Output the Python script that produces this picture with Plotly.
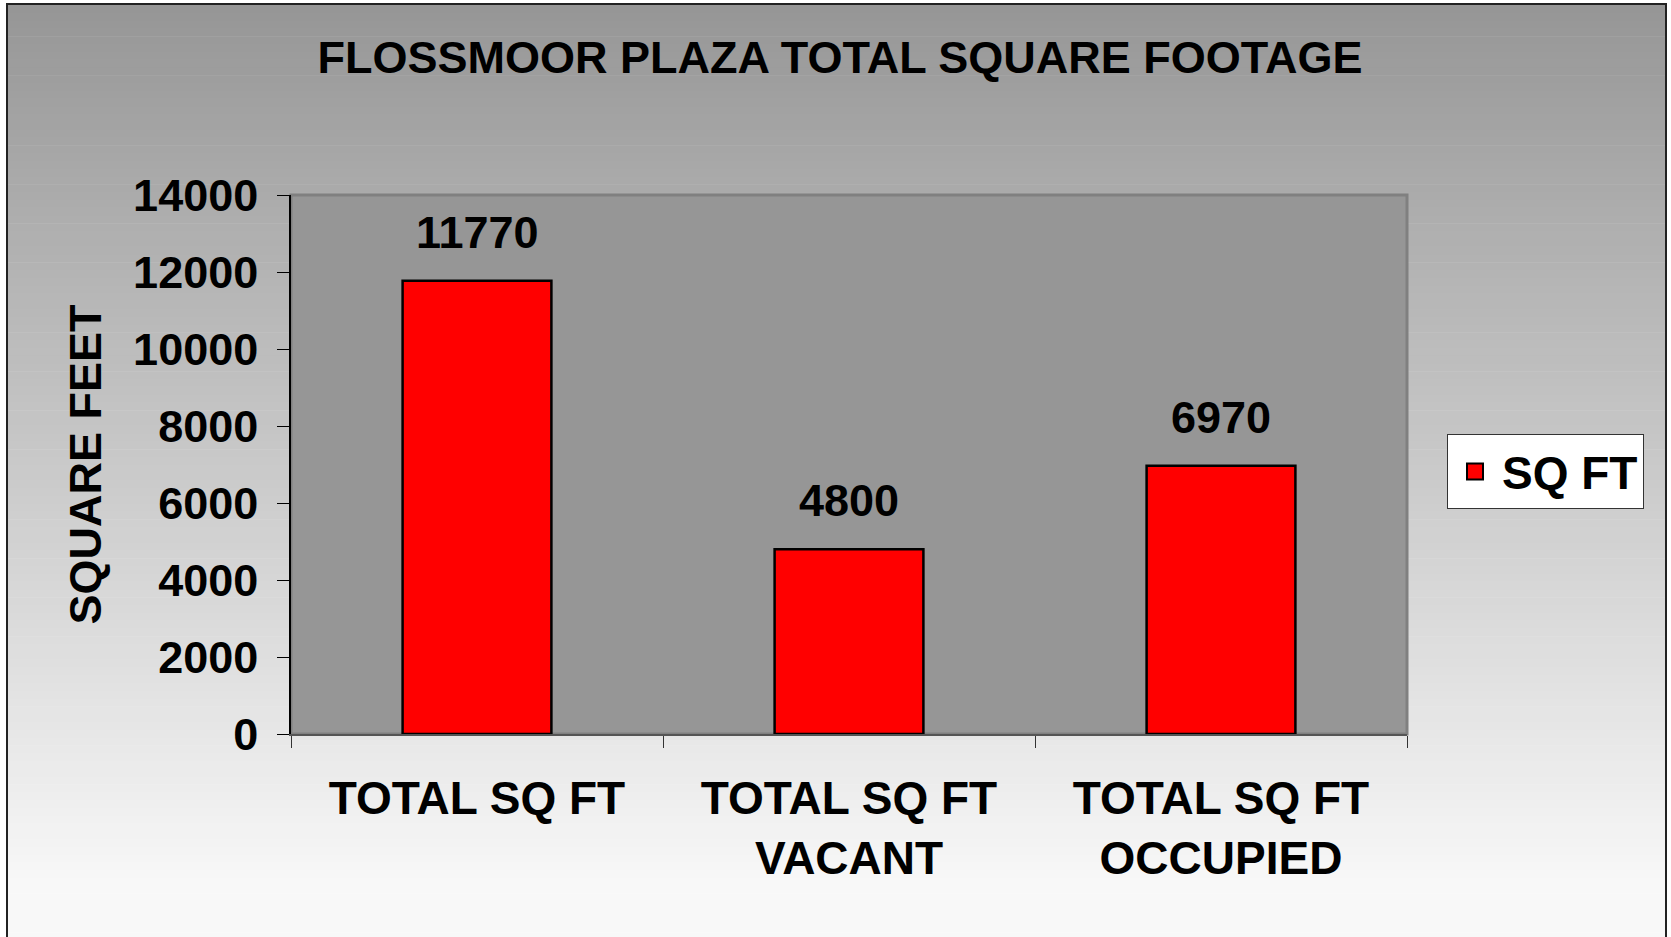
import plotly.graph_objects as go

categories = ["TOTAL SQ FT", "TOTAL SQ FT<br>VACANT", "TOTAL SQ FT<br>OCCUPIED"]
sq_ft = [11770, 4800, 6970]
series_name = "SQ FT"
y_ticks = [0, 2000, 4000, 6000, 8000, 10000, 12000, 14000]
y_tick_labels = [str(v) for v in y_ticks]

W, H = 1671, 937
L, R, T, B = 291, 1407, 195, 734
FONT = "Arial, 'Liberation Sans', sans-serif"


def px_x(p):
    return (p - L) / (R - L)


def px_y(p):
    return (B - p) / (B - T)


def font(size):
    return dict(family=FONT, size=size, color="#000000", weight="bold")


fig = go.Figure()
fig.add_trace(go.Bar(
    x=categories, y=sq_ft, name=series_name, legendgroup="sq",
    marker=dict(color="#ff0000", line=dict(color="#000000", width=2.5)),
    width=0.4, showlegend=False,
))
# legend entry for the same series (larger square symbol)
fig.add_trace(go.Scatter(
    x=[None], y=[None], name=series_name, legendgroup="sq", mode="markers",
    marker=dict(symbol="square", size=16, color="#ff0000", line=dict(color="#000000", width=2)),
    showlegend=True, hoverinfo="skip",
))

shapes = []
top, bot = 5, 940
n = 120
step = (bot - top) / n
for i in range(n):
    y0 = top + i * step
    y1 = y0 + step + 0.6
    frac = min(1.0, (y0 + step / 2 - top) / 880)
    c = int(round(150 + (248 - 150) * frac))
    shapes.append(dict(type="rect", xref="paper", yref="paper",
                       x0=px_x(7), x1=px_x(1666), y0=px_y(y0), y1=px_y(y1),
                       fillcolor=f"rgb({c},{c},{c})", line=dict(width=0), layer="below"))
shapes.append(dict(type="rect", xref="paper", yref="paper", x0=0, x1=1, y0=0, y1=1,
                   fillcolor="#969696", line=dict(color="#808080", width=3), layer="below"))
shapes.append(dict(type="rect", xref="paper", yref="paper",
                   x0=px_x(7), x1=px_x(1666), y0=px_y(4), y1=px_y(960),
                   fillcolor="rgba(0,0,0,0)", line=dict(color="#222222", width=2), layer="below"))

annotations = []
for c, v in zip(categories, sq_ft):
    annotations.append(dict(x=c, y=v, xref="x", yref="y", text=str(v), showarrow=False,
                            yanchor="bottom", yshift=21, font=font(45)))

fig.update_layout(
    width=W, height=H,
    margin=dict(l=L, r=W - R, t=T, b=H - B, autoexpand=False),
    paper_bgcolor="#ffffff", plot_bgcolor="#969696",
    title=dict(text="FLOSSMOOR PLAZA TOTAL SQUARE FOOTAGE", x=840 / W, xanchor="center",
               y=1 - 57 / H, yanchor="middle", yref="container", font=font(45)),
    shapes=shapes, annotations=annotations,
    legend=dict(x=px_x(1447), y=px_y(434), xanchor="left", yanchor="top",
                bgcolor="#ffffff", bordercolor="#333333", borderwidth=1,
                itemsizing="trace", itemwidth=44, font=font(46)),
    bargap=0.6,
)
fig.update_yaxes(range=[0, 14000], tickvals=y_ticks, ticktext=y_tick_labels,
                 ticks="outside", ticklen=12,
                 tickcolor="#000000", tickwidth=1, showline=True, linecolor="#000000",
                 linewidth=1.5, showgrid=False, zeroline=False, ticklabelstandoff=10,
                 tickfont=font(45),
                 title=dict(text="SQUARE FEET", standoff=17, font=font(45)))
fig.update_xaxes(ticks="outside", tickson="boundaries", ticklen=12, tickcolor="#333333",
                 tickwidth=1, showline=True, linecolor="#555555", linewidth=1.5,
                 showgrid=False, ticklabelstandoff=23, tickfont=font(46))

fig.write_html("out.html", config={"displayModeBar": False},
               post_script="document.body.style.margin='0';document.body.style.overflow='hidden';")
